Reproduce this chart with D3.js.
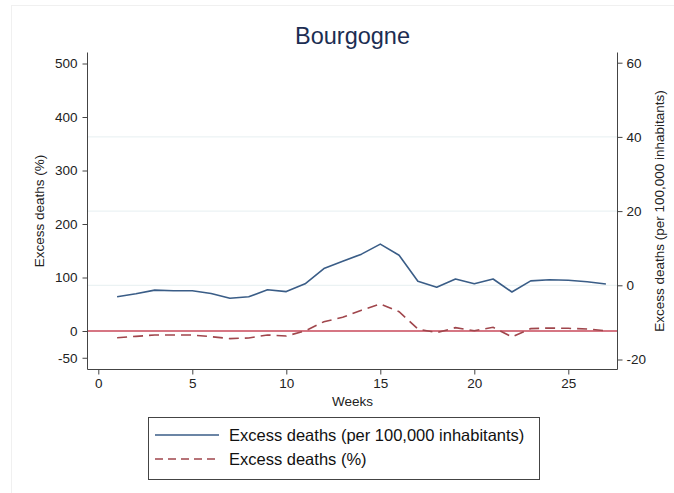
<!DOCTYPE html>
<html><head><meta charset="utf-8">
<script src="https://cdn.jsdelivr.net/npm/d3@7"></script>
<style>body{margin:0;background:#fff;} svg{display:block;font-family:"Liberation Sans",Arial,sans-serif;}</style>
</head><body>
<svg id="c" width="674" height="493"></svg>
<script>
const weeks = [1,2,3,4,5,6,7,8,9,10,11,12,13,14,15,16,17,18,19,20,21,22,23,24,25,26,27];
const per100k = [-3.1,-2.3,-1.3,-1.45,-1.45,-2.2,-3.5,-3.1,-1.2,-1.7,0.4,4.5,6.5,8.4,11.1,8.1,1.1,-0.5,1.7,0.4,1.7,-1.8,1.2,1.5,1.35,0.95,0.35];
const pct = [-12.5,-10,-7.5,-7.5,-7.5,-10.6,-14.3,-13,-7.5,-9.3,0,17.4,25.6,39,50.5,36,3.7,-3,6.2,0.6,6.9,-11,4.4,5.6,5,3.7,0.6];
const xTicks = [0,5,10,15,20,25];
const leftTicks = [-50,0,100,200,300,400,500];
const rightTicks = [-20,0,20,40,60];
const title = "Bourgogne";
const legendLabels = ["Excess deaths (per 100,000 inhabitants)","Excess deaths (%)"];

const svg = d3.select("#c");
const L = 87.5, R = 617.5, T = 52.5, B = 369.5;
const x = d3.scaleLinear().domain([0,25]).range([98.3, 98.3+18.8*25]);
const yL = d3.scaleLinear().domain([0,500]).range([331, 63.5]);
const yR = d3.scaleLinear().domain([0,60]).range([285.3, 62.7]);
const fmt = d => String(d);

// faint outer frame
svg.append("rect").attr("x",11.5).attr("y",5.5).attr("width",674).attr("height",500)
  .attr("fill","none").attr("stroke","#f0f0f0");

// gridlines (right axis)
svg.append("g").selectAll("line").data([0,20,40]).join("line")
  .attr("x1",L).attr("x2",R).attr("y1",d=>yR(d)).attr("y2",d=>yR(d))
  .attr("stroke","#e6eff1").attr("stroke-width",1);

// zero reference line (left axis)
svg.append("line").attr("x1",L).attr("x2",R).attr("y1",yL(0)).attr("y2",yL(0))
  .attr("stroke","#c8485a").attr("stroke-width",1.4);

// axes
const axStyle = g => {
  g.selectAll(".domain").remove();
  g.selectAll(".tick line").attr("stroke","#444");
  g.selectAll(".tick text").attr("fill","#222").style("font-size","13.5px").style("font-family","'Liberation Sans',Arial,sans-serif");
};
svg.append("g").attr("transform",`translate(${L},0)`)
  .call(d3.axisLeft(yL).tickValues(leftTicks).tickFormat(fmt).tickSize(5).tickPadding(5)).call(axStyle);
svg.append("g").attr("transform",`translate(${R},0)`)
  .call(d3.axisRight(yR).tickValues(rightTicks).tickFormat(fmt).tickSize(5).tickPadding(4)).call(axStyle);
svg.append("g").attr("transform",`translate(0,${B})`)
  .call(d3.axisBottom(x).tickValues(xTicks).tickFormat(fmt).tickSize(5).tickPadding(4)).call(axStyle);

// axis lines
svg.append("path").attr("d",`M${L},${T}V${B}H${R}V${T}`).attr("fill","none").attr("stroke","#444").attr("stroke-width",1);

// series
const lineR = d3.line().x((d,i)=>x(weeks[i])).y(d=>yR(d));
const lineL = d3.line().x((d,i)=>x(weeks[i])).y(d=>yL(d));
svg.append("path").datum(per100k).attr("d",lineR).attr("fill","none")
  .attr("stroke","#3a5d87").attr("stroke-width",1.6).attr("stroke-linejoin","round");
svg.append("path").datum(pct).attr("d",lineL).attr("fill","none")
  .attr("stroke","#a0464c").attr("stroke-width",1.6).attr("stroke-dasharray","10,6");

// titles
svg.append("text").attr("x",(L+R)/2).attr("y",44).attr("text-anchor","middle")
  .style("font-size","23.5px").attr("fill","#1c2d52").text(title);
svg.append("text").attr("x",(L+R)/2).attr("y",406).attr("text-anchor","middle")
  .style("font-size","13.5px").attr("fill","#222").text("Weeks");
svg.append("text").attr("transform",`translate(44,${(T+B)/2}) rotate(-90)`).attr("text-anchor","middle")
  .style("font-size","13.5px").attr("fill","#222").text("Excess deaths (%)");
svg.append("text").attr("transform",`translate(664,${(T+B)/2}) rotate(-90)`).attr("text-anchor","middle")
  .style("font-size","13.5px").attr("fill","#222").text("Excess deaths (per 100,000 inhabitants)");

// legend
const lg = svg.append("g");
lg.append("rect").attr("x",148.5).attr("y",417.5).attr("width",391).attr("height",62)
  .attr("fill","#fff").attr("stroke","#444");
const items = [{c:"#3a5d87",d:null},{c:"#a0464c",d:"8,5"}];
items.forEach((it,i)=>{
  const yy = 435 + i*24;
  lg.append("line").attr("x1",155).attr("x2",219).attr("y1",yy).attr("y2",yy)
    .attr("stroke",it.c).attr("stroke-width",1.4).attr("stroke-dasharray",it.d);
  lg.append("text").attr("x",229).attr("y",yy+5.5).style("font-size","16.5px").attr("fill","#111").text(legendLabels[i]);
});
</script>
</body></html>
